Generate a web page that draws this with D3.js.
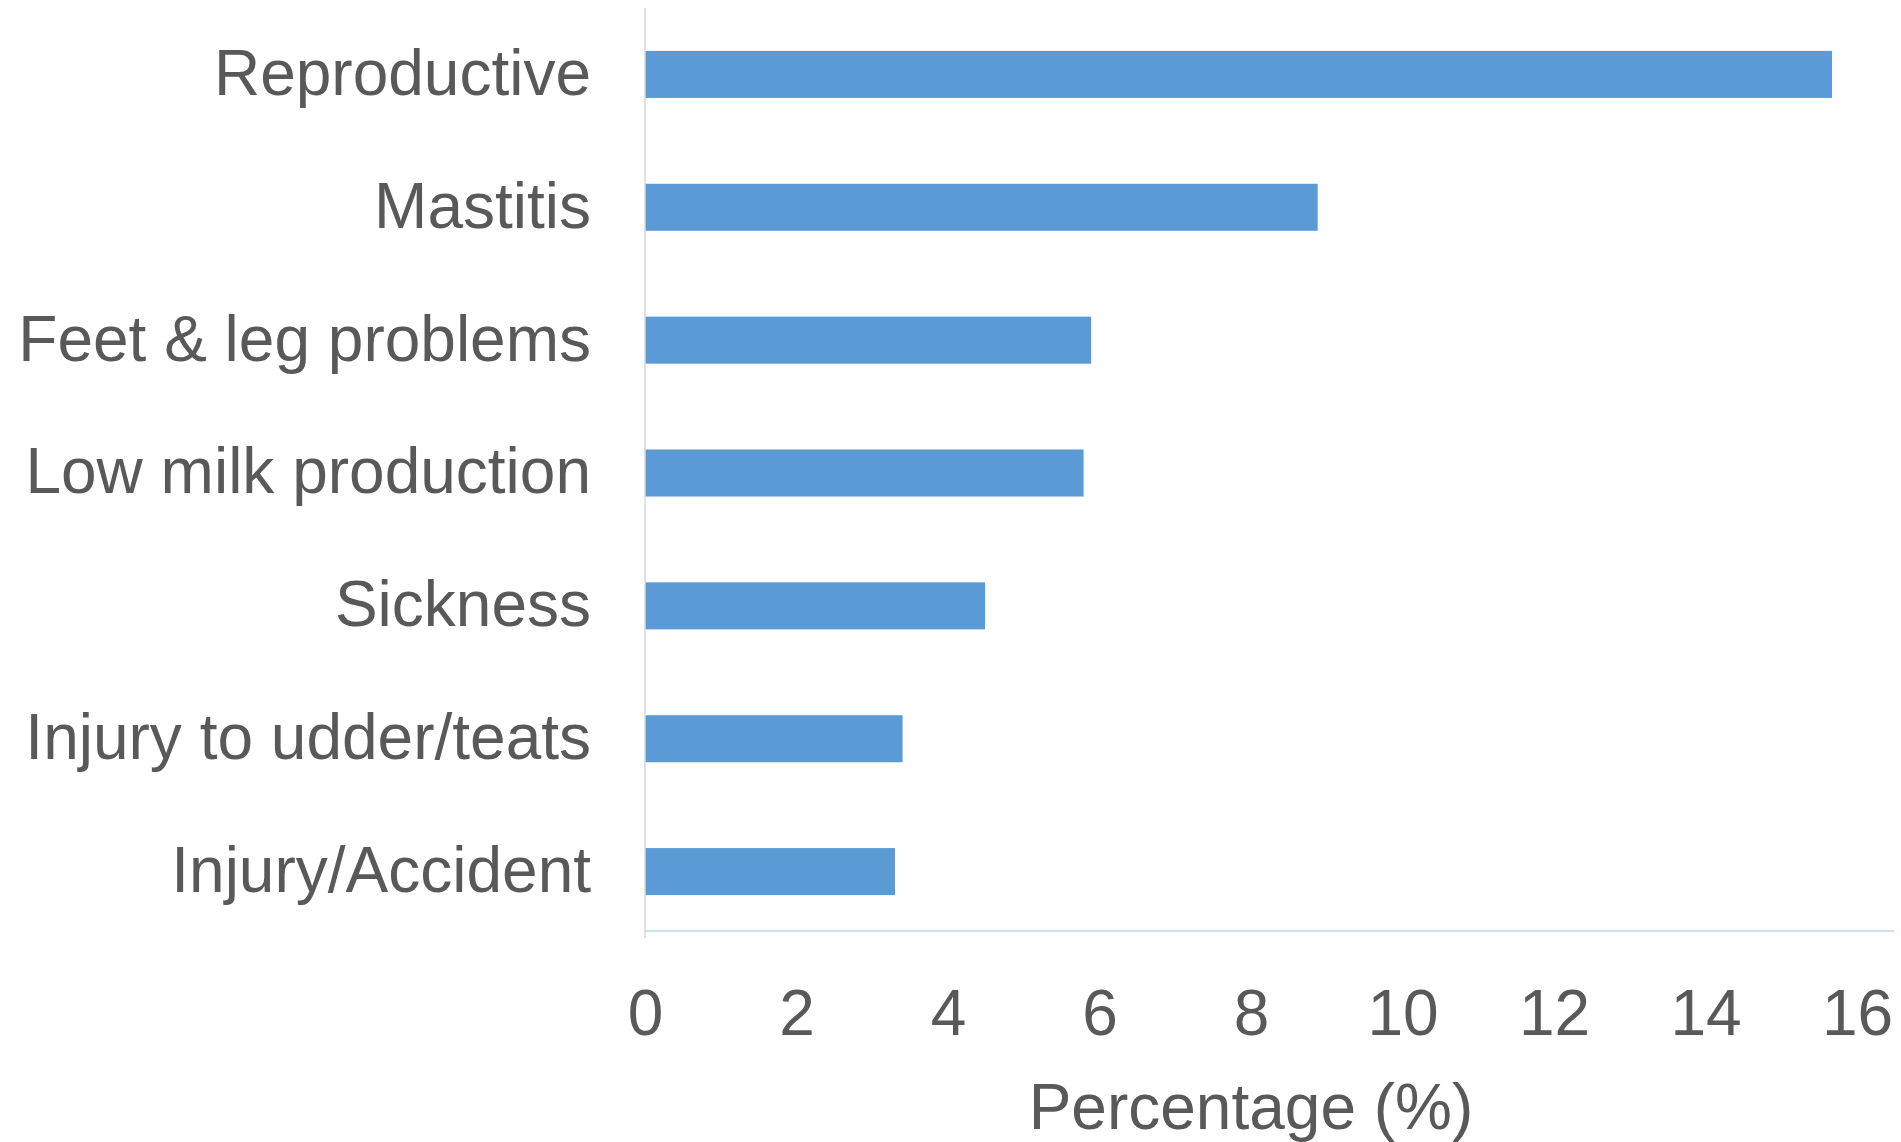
<!DOCTYPE html>
<html>
<head>
<meta charset="utf-8">
<script src="https://cdn.jsdelivr.net/npm/d3@7"></script>
<style>
  body { margin: 0; background: #fff; }
  svg { display: block; }
</style>
</head>
<body>
<div class="container"></div>
<script>
// data
var categories = ["Reproductive", "Mastitis", "Feet & leg problems", "Low milk production",
                  "Sickness", "Injury to udder/teats", "Injury/Accident"];
var values = [15.67, 8.88, 5.89, 5.79, 4.49, 3.40, 3.30];
var xTicks = [0, 2, 4, 6, 8, 10, 12, 14, 16];
var xTitle = "Percentage (%)";

var W = 1901, H = 1142;
var font = "Arial, 'Liberation Sans', sans-serif";
var textColor = "#595959";

var svg = d3.select(".container")
  .append("svg")
  .attr("width", W)
  .attr("height", H);

var x = d3.scaleLinear().domain([0, 16]).range([645, 1857]);
var y = d3.scaleBand()
  .domain(categories)
  .range([8, 938])
  .paddingInner(0.646)
  .paddingOuter(0.323);

var axisY = 931;

var data = categories.map(function(c, i) { return {cat: c, val: values[i]}; });

/* ===== BARS ===== */
svg.selectAll("rect.bar")
  .data(data)
  .enter()
  .append("rect")
  .attr("class", "bar")
  .attr("x", x(0))
  .attr("y", function(d) { return y(d.cat); })
  .attr("width", function(d) { return x(d.val) - x(0); })
  .attr("height", y.bandwidth())
  .attr("fill", "#5B9BD5");

/* ===== AXES ===== */
// vertical axis line
svg.append("line")
  .attr("x1", x(0)).attr("x2", x(0))
  .attr("y1", 8).attr("y2", 938)
  .attr("stroke", "#D9D9D9")
  .attr("stroke-width", 1.5);

// horizontal axis line
svg.append("line")
  .attr("x1", x(0)).attr("x2", 1894)
  .attr("y1", axisY).attr("y2", axisY)
  .attr("stroke", "#BDD7EE")
  .attr("stroke-width", 1.5);

var yAxis = d3.axisLeft(y).tickSize(0).tickPadding(54);
var gy = svg.append("g")
  .attr("transform", "translate(" + x(0) + ",0)")
  .call(yAxis);
gy.select(".domain").remove();
gy.selectAll("text")
  .style("font-family", font)
  .style("font-size", "64px")
  .attr("fill", textColor);

var xAxis = d3.axisBottom(x).tickValues(xTicks).tickSize(0).tickPadding(59)
  .tickFormat(d3.format("d"));
var gx = svg.append("g")
  .attr("transform", "translate(0," + axisY + ")")
  .call(xAxis);
gx.select(".domain").remove();
gx.selectAll("text")
  .style("font-family", font)
  .style("font-size", "64px")
  .attr("fill", textColor);

/* ===== TITLE ===== */
svg.append("text")
  .attr("x", (x(0) + x(16)) / 2)
  .attr("y", 1129)
  .style("text-anchor", "middle")
  .style("font-family", font)
  .style("font-size", "64px")
  .attr("fill", textColor)
  .text(xTitle);
</script>
</body>
</html>
